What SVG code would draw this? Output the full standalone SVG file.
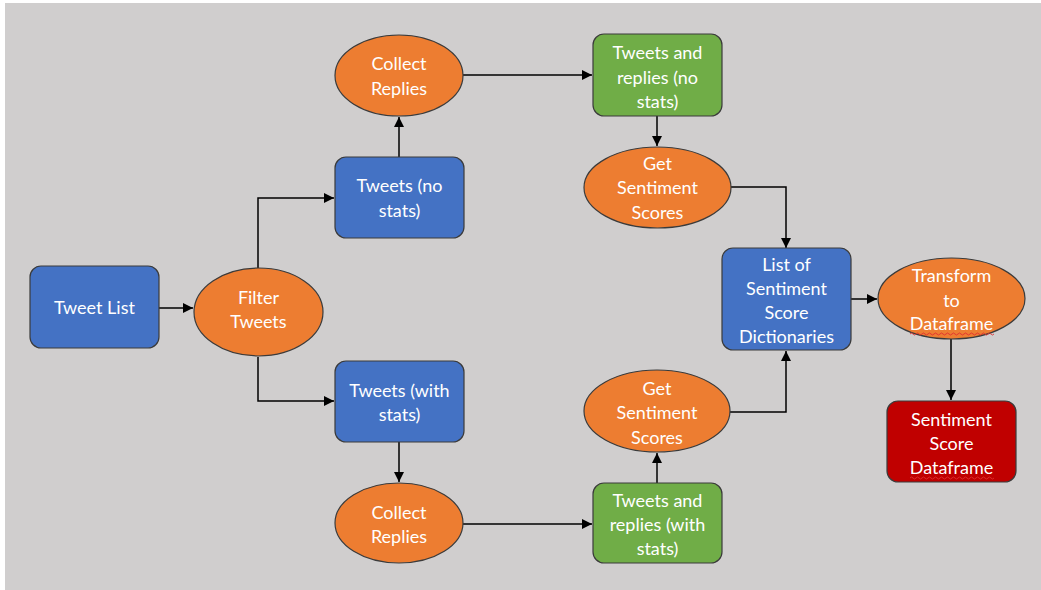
<svg xmlns="http://www.w3.org/2000/svg" width="1041" height="590" viewBox="0 0 1041 590">
<defs>
<style>
.box{stroke:#3b3b3b;stroke-width:1.2}
.blue{fill:#4472c4}
.orange{fill:#ed7d31}
.green{fill:#70ad47}
.red{fill:#c00000}
.t{font-family:Lato,"Open Sans","Liberation Sans",sans-serif;font-size:18px;fill:#ffffff;text-anchor:middle;dominant-baseline:central}
.c{fill:none;stroke:#000;stroke-width:1.5}
.wave{fill:none;stroke:#e03030;stroke-width:0.9}
</style>
<marker id="ah" viewBox="0 0 10 10" refX="10" refY="5" markerWidth="10" markerHeight="10" markerUnits="userSpaceOnUse" orient="auto">
<path d="M0,0 L10,5 L0,10 z" fill="#000"/>
</marker>
</defs>
<rect x="0" y="0" width="1041" height="590" fill="#ffffff"/>
<rect x="5" y="3" width="1036" height="587" fill="#d0cece"/>

<g id="connectors">
<path class="c" d="M159,308 L193,308" marker-end="url(#ah)"/>
<path class="c" d="M258,268 L258,198 L334,198" marker-end="url(#ah)"/>
<path class="c" d="M258,357 L258,401 L334,401" marker-end="url(#ah)"/>
<path class="c" d="M399,157 L399,117" marker-end="url(#ah)"/>
<path class="c" d="M463,75 L592,75" marker-end="url(#ah)"/>
<path class="c" d="M657,116 L657,146" marker-end="url(#ah)"/>
<path class="c" d="M731,187 L786,187 L786,248" marker-end="url(#ah)"/>
<path class="c" d="M399,442 L399,482" marker-end="url(#ah)"/>
<path class="c" d="M463,524 L592,524" marker-end="url(#ah)"/>
<path class="c" d="M657,483 L657,453" marker-end="url(#ah)"/>
<path class="c" d="M730,412 L786,412 L786,351" marker-end="url(#ah)"/>
<path class="c" d="M851,299 L877,299" marker-end="url(#ah)"/>
<path class="c" d="M951,339 L951,400" marker-end="url(#ah)"/>
</g>

<g id="tweet-list">
<rect class="box blue" x="30" y="266" width="129" height="82" rx="11"/>
<text class="t" x="94.5" y="307">Tweet List</text>
</g>

<g id="filter-tweets">
<ellipse class="box orange" cx="258.5" cy="312" rx="64.5" ry="44"/>
<text class="t" x="258.5" y="297">Filter</text>
<text class="t" x="258.5" y="321">Tweets</text>
</g>

<g id="tweets-no-stats">
<rect class="box blue" x="335" y="157" width="129" height="81" rx="11"/>
<text class="t" x="399.5" y="185">Tweets (no</text>
<text class="t" x="399.5" y="210">stats)</text>
</g>

<g id="collect-replies-top">
<ellipse class="box orange" cx="399" cy="75.5" rx="64" ry="40.5"/>
<text class="t" x="399" y="63">Collect</text>
<text class="t" x="399" y="88">Replies</text>
</g>

<g id="tweets-replies-no-stats">
<rect class="box green" x="593" y="34" width="129" height="82" rx="11"/>
<text class="t" x="657.5" y="52">Tweets and</text>
<text class="t" x="657.5" y="77">replies (no</text>
<text class="t" x="657.5" y="101">stats)</text>
</g>

<g id="get-sentiment-top">
<ellipse class="box orange" cx="657.5" cy="187.5" rx="73.5" ry="40.5"/>
<text class="t" x="657.5" y="163">Get</text>
<text class="t" x="657.5" y="187">Sentiment</text>
<text class="t" x="657.5" y="212">Scores</text>
</g>

<g id="tweets-with-stats">
<rect class="box blue" x="335" y="361" width="129" height="81" rx="11"/>
<text class="t" x="399.5" y="390">Tweets (with</text>
<text class="t" x="399.5" y="414">stats)</text>
</g>

<g id="collect-replies-bottom">
<ellipse class="box orange" cx="399" cy="523" rx="64" ry="40"/>
<text class="t" x="399" y="512">Collect</text>
<text class="t" x="399" y="536">Replies</text>
</g>

<g id="tweets-replies-with-stats">
<rect class="box green" x="593" y="483" width="129" height="80" rx="11"/>
<text class="t" x="657.5" y="500">Tweets and</text>
<text class="t" x="657.5" y="524">replies (with</text>
<text class="t" x="657.5" y="548">stats)</text>
</g>

<g id="get-sentiment-bottom">
<ellipse class="box orange" cx="657" cy="411" rx="73" ry="41"/>
<text class="t" x="657" y="388">Get</text>
<text class="t" x="657" y="412">Sentiment</text>
<text class="t" x="657" y="437">Scores</text>
</g>

<g id="list-of-dicts">
<rect class="box blue" x="722" y="248" width="129" height="102" rx="11"/>
<text class="t" x="786.5" y="264">List of</text>
<text class="t" x="786.5" y="288">Sentiment</text>
<text class="t" x="786.5" y="312">Score</text>
<text class="t" x="786.5" y="336">Dictionaries</text>
</g>

<g id="transform">
<ellipse class="box orange" cx="951.5" cy="298.5" rx="73.5" ry="40.5"/>
<text class="t" x="951.5" y="275">Transform</text>
<text class="t" x="951.5" y="300">to</text>
<text class="t" x="951.5" y="323">Dataframe</text>
<path class="wave" d="M910,334 q1.5,-2 3,0 t3,0 t3,0 t3,0 t3,0 t3,0 t3,0 t3,0 t3,0 t3,0 t3,0 t3,0 t3,0 t3,0 t3,0 t3,0 t3,0 t3,0 t3,0 t3,0 t3,0 t3,0 t3,0 t3,0 t3,0 t3,0 t3,0 t3,0"/>
</g>

<g id="sentiment-score-dataframe">
<rect class="box red" x="887" y="401" width="129" height="81" rx="11"/>
<text class="t" x="951.5" y="419">Sentiment</text>
<text class="t" x="951.5" y="443">Score</text>
<text class="t" x="951.5" y="467">Dataframe</text>
<path class="wave" d="M910,478 q1.5,-2 3,0 t3,0 t3,0 t3,0 t3,0 t3,0 t3,0 t3,0 t3,0 t3,0 t3,0 t3,0 t3,0 t3,0 t3,0 t3,0 t3,0 t3,0 t3,0 t3,0 t3,0 t3,0 t3,0 t3,0 t3,0 t3,0 t3,0 t3,0"/>
</g>
</svg>
